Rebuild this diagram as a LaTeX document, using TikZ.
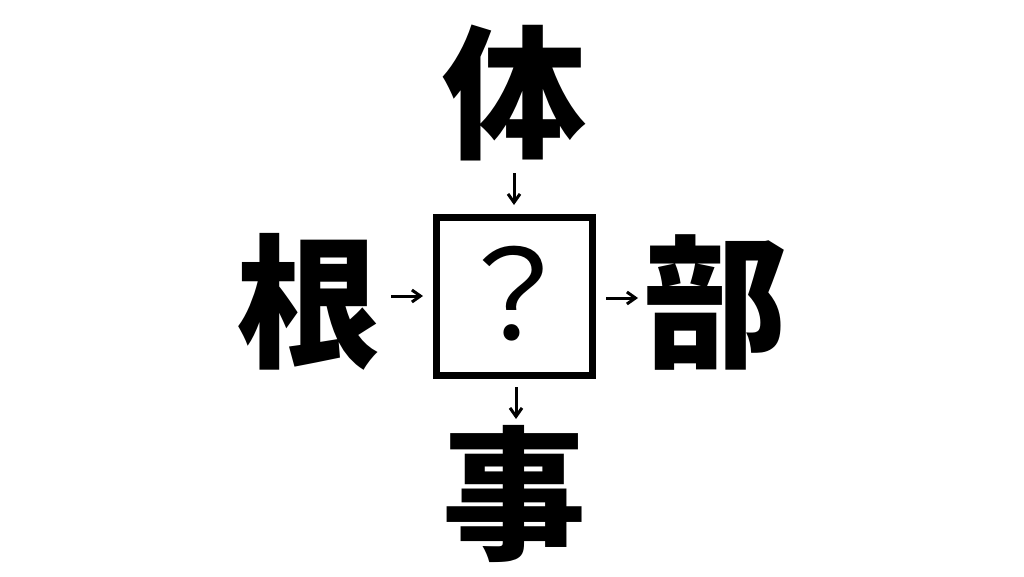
\documentclass[tikz,border=0pt]{standalone}
\usepackage{fontspec}
\newfontfamily\jp{Noto Sans CJK JP}
\usetikzlibrary{arrows.meta}
\tikzset{
  kanji/.style={font=\jp\bfseries\fontsize{144}{144}\selectfont, inner sep=0pt, anchor=center},
  qbox/.style={draw, line width=7pt, minimum width=156pt, minimum height=158pt, inner sep=0pt},
  qmark/.style={font=\jp\fontsize{124}{124}\selectfont, inner sep=0pt, anchor=center},
  arr/.style={line width=3pt, -{Straight Barb[length=8.5pt,width=12pt,line width=3pt]}}
}
\begin{document}
\begin{tikzpicture}[x=1pt,y=-1pt]
\useasboundingbox[fill=white] (0,0) rectangle (1024,576);
\node[qbox] (q) at (514.5,296.5) {};
\node[qmark] (qm) at (513,294) {？};
\node[kanji] (ti) at (514,93) {体};
\node[kanji] (ne) at (308,302) {根};
\node[kanji] (bu) at (715,302) {部};
\node[kanji] (ji) at (514,494) {事};
\coordinate (a1) at (514,173);
\coordinate (a2) at (514,205);
\coordinate (b1) at (391,296);
\coordinate (b2) at (423,296);
\coordinate (c1) at (606,298);
\coordinate (c2) at (638,298);
\coordinate (d1) at (516,387);
\coordinate (d2) at (516,419);
\draw[arr] (a1) -- (a2);
\draw[arr] (b1) -- (b2);
\draw[arr] (c1) -- (c2);
\draw[arr] (d1) -- (d2);
\end{tikzpicture}
\end{document}
